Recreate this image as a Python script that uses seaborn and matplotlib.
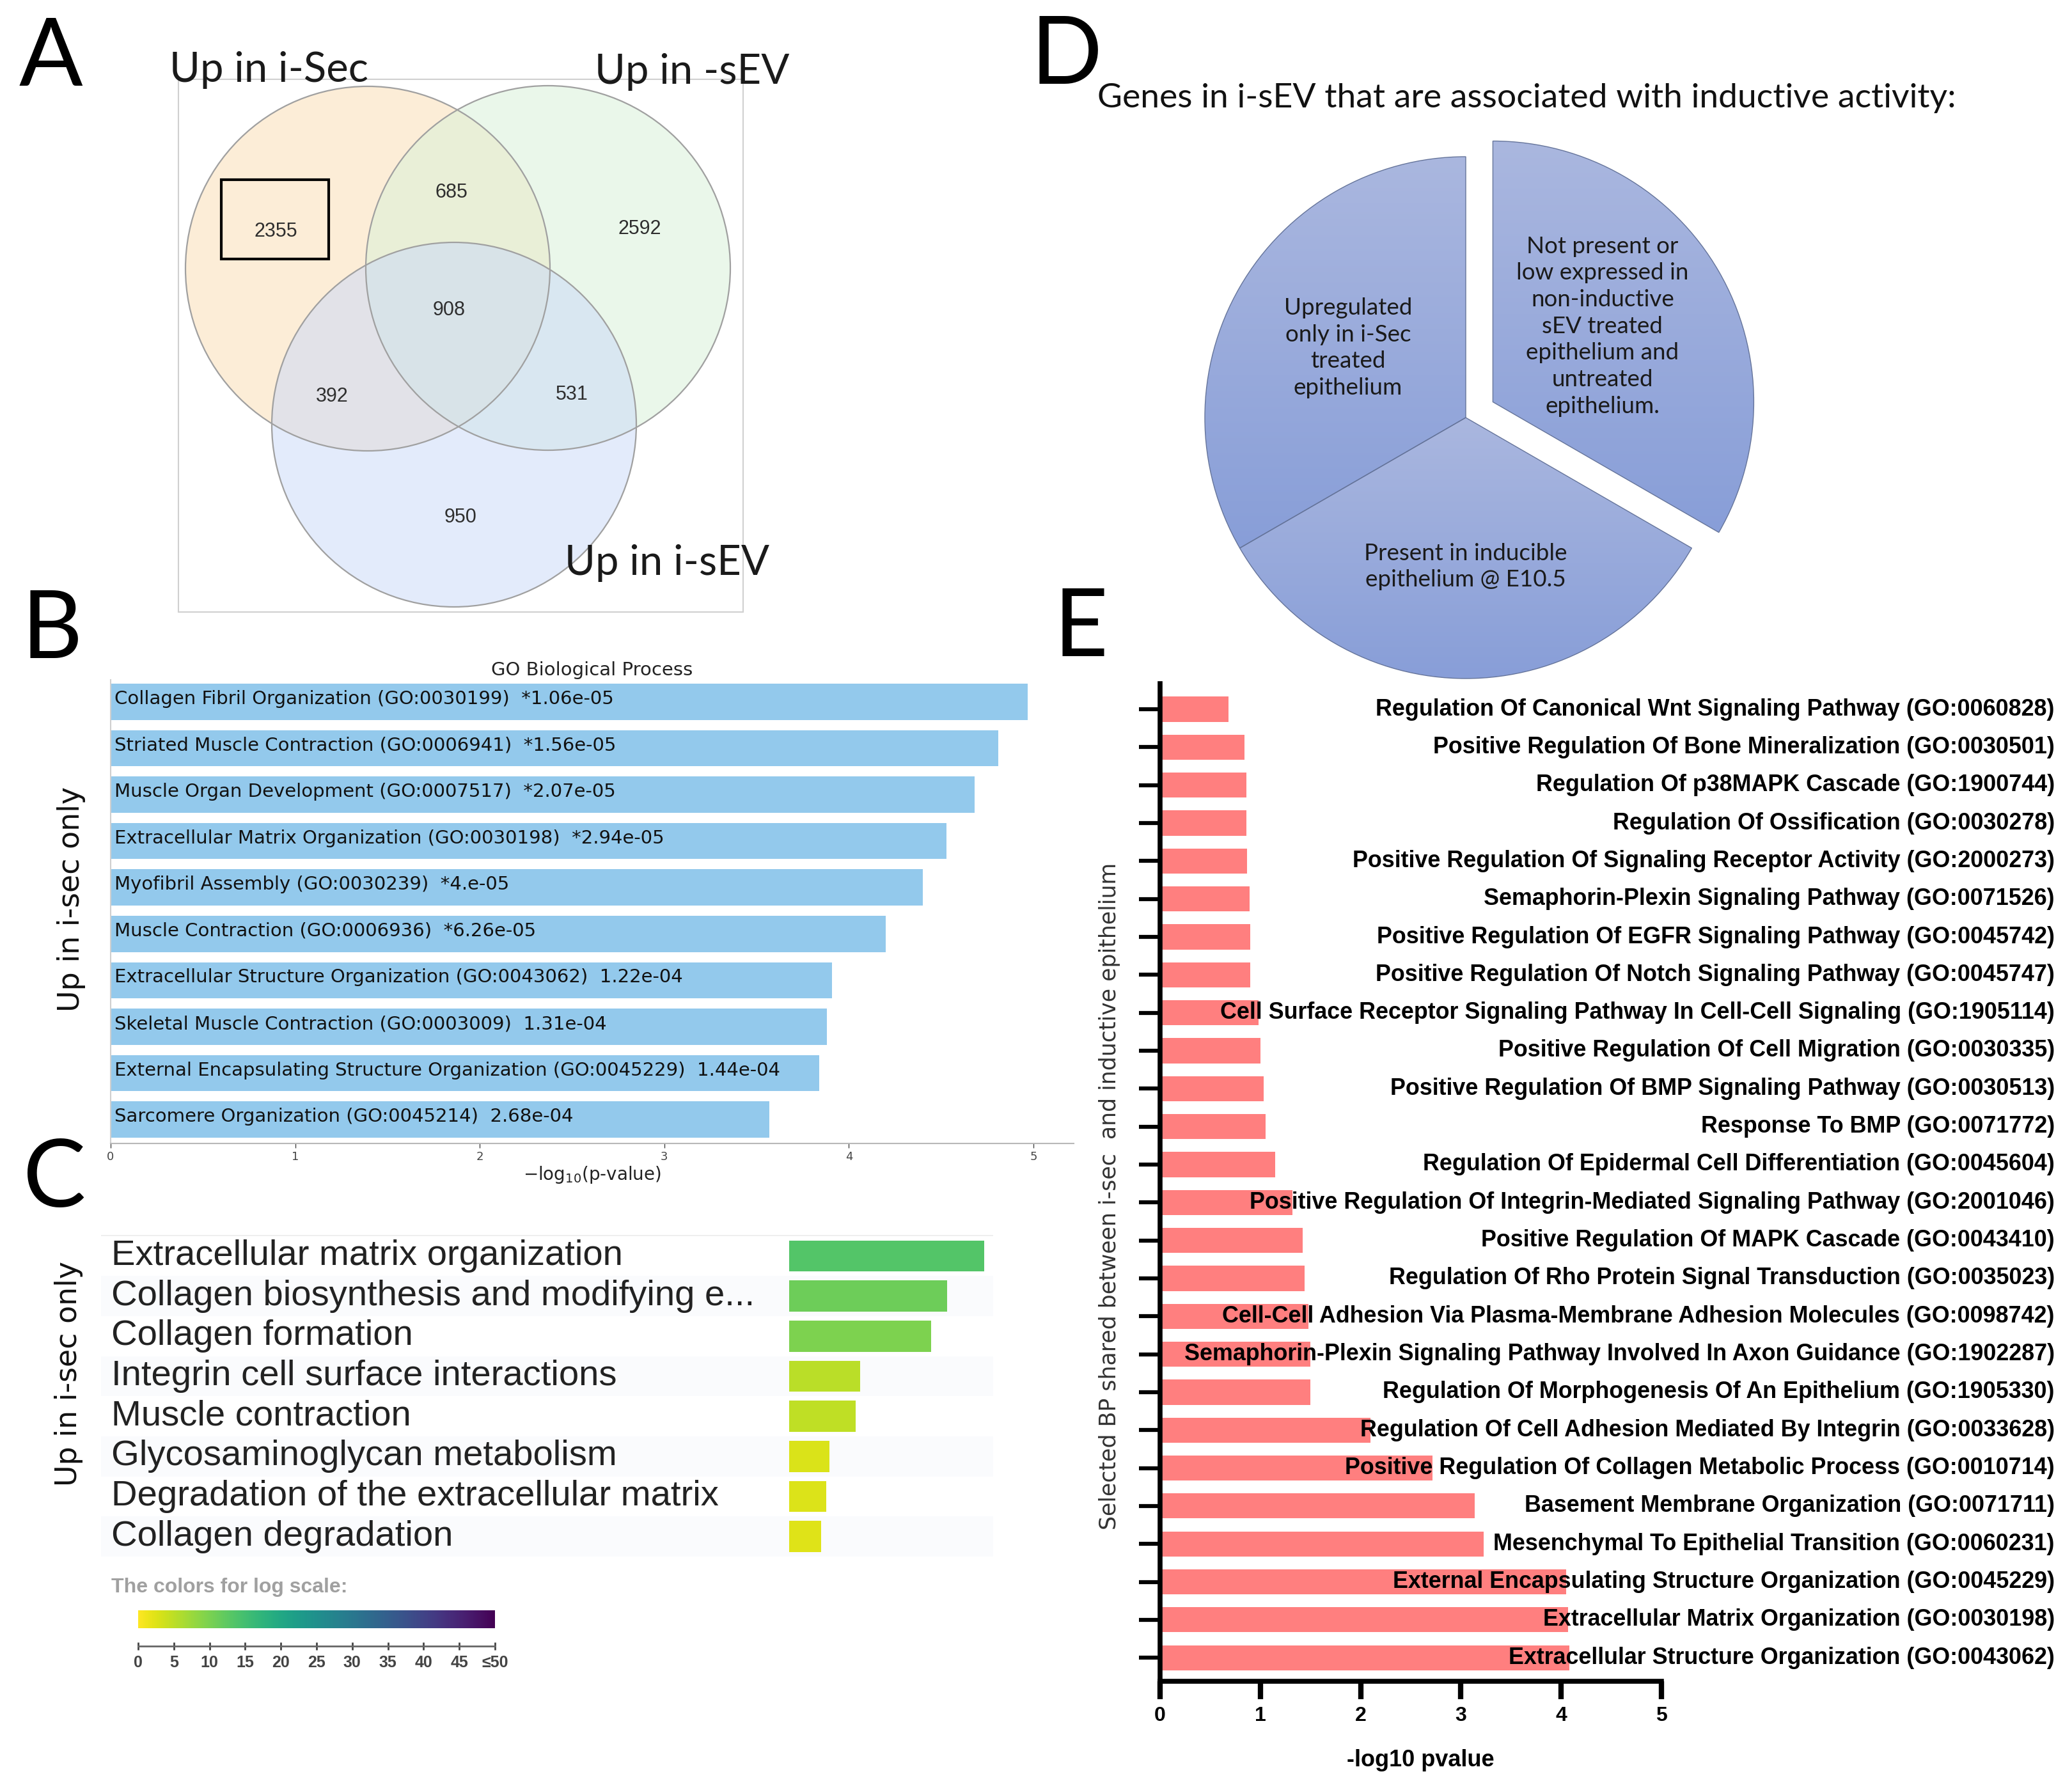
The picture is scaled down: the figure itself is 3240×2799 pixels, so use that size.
import numpy as np
import pandas as pd
import matplotlib
matplotlib.use('Agg')
import matplotlib.pyplot as plt
import seaborn as sns
from matplotlib.patches import Circle, Rectangle
from matplotlib.colors import LinearSegmentedColormap

W, H = 3241, 2799

# ---- data ----
# A: Venn diagram
venn_labels = ['Up in i-Sec', 'Up in -sEV', 'Up in i-sEV']
venn_counts = [2355, 685, 2592, 908, 392, 531, 950]

# B: GO Biological Process (up in i-sec only)
go_terms = ['Collagen Fibril Organization', 'Striated Muscle Contraction', 'Muscle Organ Development',
            'Extracellular Matrix Organization', 'Myofibril Assembly', 'Muscle Contraction',
            'Extracellular Structure Organization', 'Skeletal Muscle Contraction',
            'External Encapsulating Structure Organization', 'Sarcomere Organization']
go_ids = ['GO:0030199', 'GO:0006941', 'GO:0007517', 'GO:0030198', 'GO:0030239',
          'GO:0006936', 'GO:0043062', 'GO:0003009', 'GO:0045229', 'GO:0045214']
go_pvals = ['*1.06e-05', '*1.56e-05', '*2.07e-05', '*2.94e-05', '*4.e-05',
            '*6.26e-05', '1.22e-04', '1.31e-04', '1.44e-04', '2.68e-04']
go_scores = [4.97, 4.81, 4.68, 4.53, 4.40, 4.20, 3.91, 3.88, 3.84, 3.57]

# C: Reactome bars
reactome_terms = ['Extracellular matrix organization', 'Collagen biosynthesis and modifying e...',
                  'Collagen formation', 'Integrin cell surface interactions', 'Muscle contraction',
                  'Glycosaminoglycan metabolism', 'Degradation of the extracellular matrix',
                  'Collagen degradation']
reactome_scores = [5.0, 4.05, 3.64, 1.82, 1.70, 1.03, 0.95, 0.82]
reactome_colors = ['#53C568', '#6DCD59', '#7DD24F', '#BADE28', '#BFDF25', '#DAE319', '#DCE319', '#DFE318']
cbar_ticks = [0, 5, 10, 15, 20, 25, 30, 35, 40, 45, 50]
cbar_ticklabels = ['0', '5', '10', '15', '20', '25', '30', '35', '40', '45', '≤50']

# D: pie
pie_sizes = [1, 1, 1]
pie_texts = ['Upregulated\nonly in i-Sec\ntreated\nepithelium',
             'Present in inducible\nepithelium @ E10.5',
             'Not present or\nlow expressed in\nnon-inductive\nsEV treated\nepithelium and\nuntreated\nepithelium.']

# E: shared BP
bp_terms = ['Regulation Of Canonical Wnt Signaling Pathway (GO:0060828)',
            'Positive Regulation Of Bone Mineralization (GO:0030501)',
            'Regulation Of p38MAPK Cascade (GO:1900744)',
            'Regulation Of Ossification (GO:0030278)',
            'Positive Regulation Of Signaling Receptor Activity (GO:2000273)',
            'Semaphorin-Plexin Signaling Pathway (GO:0071526)',
            'Positive Regulation Of EGFR Signaling Pathway (GO:0045742)',
            'Positive Regulation Of Notch Signaling Pathway (GO:0045747)',
            'Cell Surface Receptor Signaling Pathway In Cell-Cell Signaling (GO:1905114)',
            'Positive Regulation Of Cell Migration (GO:0030335)',
            'Positive Regulation Of BMP Signaling Pathway (GO:0030513)',
            'Response To BMP (GO:0071772)',
            'Regulation Of Epidermal Cell Differentiation (GO:0045604)',
            'Positive Regulation Of Integrin-Mediated Signaling Pathway (GO:2001046)',
            'Positive Regulation Of MAPK Cascade (GO:0043410)',
            'Regulation Of Rho Protein Signal Transduction (GO:0035023)',
            'Cell-Cell Adhesion Via Plasma-Membrane Adhesion Molecules (GO:0098742)',
            'Semaphorin-Plexin Signaling Pathway Involved In Axon Guidance (GO:1902287)',
            'Regulation Of Morphogenesis Of An Epithelium (GO:1905330)',
            'Regulation Of Cell Adhesion Mediated By Integrin (GO:0033628)',
            'Positive Regulation Of Collagen Metabolic Process (GO:0010714)',
            'Basement Membrane Organization (GO:0071711)',
            'Mesenchymal To Epithelial Transition (GO:0060231)',
            'External Encapsulating Structure Organization (GO:0045229)',
            'Extracellular Matrix Organization (GO:0030198)',
            'Extracellular Structure Organization (GO:0043062)']
bp_scores = [0.68, 0.84, 0.86, 0.86, 0.87, 0.89, 0.90, 0.90, 0.98, 1.00, 1.03, 1.05, 1.15,
             1.32, 1.42, 1.44, 1.48, 1.50, 1.50, 2.10, 2.72, 3.14, 3.23, 4.05, 4.07, 4.08]

fig = plt.figure(figsize=(W / 100, H / 100), dpi=100)


def px_axes(x0, y0, x1, y1):
    return fig.add_axes([x0 / W, 1 - y1 / H, (x1 - x0) / W, (y1 - y0) / H])


bg = px_axes(0, 0, W, H)
bg.set_xlim(0, W)
bg.set_ylim(H, 0)
bg.axis('off')

for letter, x, y in [('A', 30, 134), ('B', 34, 1029), ('C', 36, 1887), ('D', 1612, 131), ('E', 1648, 1026)]:
    bg.text(x, y, letter, fontsize=106, family='Lato', va='baseline', ha='left')

# ---- A: Venn ----
bg.add_patch(Rectangle((279, 124), 883, 833, fill=False, edgecolor='#d0d0d0', lw=1.5))
centers = [(575, 420), (857, 419), (710, 664)]
fills = ['#FBDDB0', '#D7F1D7', '#C9D9F9']
for c, f in zip(centers, fills):
    bg.add_patch(Circle(c, 285, facecolor=f, alpha=0.5, edgecolor='none'))
for c in centers:
    bg.add_patch(Circle(c, 285, fill=False, edgecolor='#a0a0a0', lw=1.6))
count_pos = [(431, 362), (706, 301), (1000, 358), (702, 485), (519, 620), (894, 617), (720, 809)]
for n, (x, y) in zip(venn_counts, count_pos):
    bg.text(x, y, str(n), fontsize=22, family='Liberation Sans', color='#2e2e2e', ha='center', va='center')
bg.add_patch(Rectangle((346, 281), 168, 124, fill=False, edgecolor='black', lw=3))
for lab, (x, y) in zip(venn_labels, [(265, 128), (930, 131), (883, 899)]):
    bg.text(x, y, lab, fontsize=47, family='Lato', color='#1a1a1a', ha='left', va='baseline')

# ---- B: GO bar chart ----
axB = px_axes(173, 1063, 1679, 1788)
dfB = pd.DataFrame({'term': go_terms, 'score': go_scores})
sns.barplot(data=dfB, x='score', y='term', orient='h', color='#93C9EC', saturation=1, width=0.78, ax=axB)
axB.set_xlim(0, 5.218)
axB.set_ylim(9.517, -0.475)
for i, (t, g, p) in enumerate(zip(go_terms, go_ids, go_pvals)):
    axB.text(0.022, i - 0.06, f'{t} ({g})  {p}', fontsize=21, va='center', ha='left', color='#111')
axB.set_yticks([])
axB.set_ylabel('')
axB.set_xticks(range(6))
axB.tick_params(axis='x', labelsize=13, colors='#444', length=5, width=1)
axB.set_xlabel('−log$_{10}$(p-value)', fontsize=20, color='#222')
axB.xaxis.set_label_coords(0.5, -0.045)
axB.set_title('GO Biological Process', fontsize=21, pad=5, color='#222')
for s in ['top', 'right']:
    axB.spines[s].set_visible(False)
axB.spines['left'].set_color('#cfcfcf')
axB.spines['bottom'].set_color('#b8b8b8')
axB.spines['left'].set_linewidth(1.5)
axB.spines['bottom'].set_linewidth(1.5)
bg.text(112, 1406, 'Up in i-sec only', fontsize=33, rotation=90, ha='center', va='center', color='#111')

# ---- C: Reactome bars ----
axCbg = px_axes(158, 1931, 1553, 2434)
axCbg.set_xlim(0, 1)
axCbg.set_ylim(7.5, -0.526)
axCbg.axis('off')
for i in range(len(reactome_terms)):
    if i % 2 == 1:
        axCbg.axhspan(i - 0.5, i + 0.5, color='#fafbfd', lw=0)
axCbg.axhline(-0.526, color='#eeeeee', lw=2)
for i, t in enumerate(reactome_terms):
    axCbg.text(0.0115, i, t, fontsize=40.5, family='Liberation Sans', color='#222', va='center', ha='left')

axC = px_axes(1234, 1931, 1553, 2434)
dfC = pd.DataFrame({'term': reactome_terms, 'score': reactome_scores})
sns.barplot(data=dfC, x='score', y='term', hue='term', palette=reactome_colors, legend=False,
            orient='h', saturation=1, width=0.78, ax=axC)
axC.set_xlim(0, 5.23)
axC.set_ylim(7.5, -0.526)
axC.axis('off')
bg.text(108, 2148, 'Up in i-sec only', fontsize=33, rotation=90, ha='center', va='center', color='#111')

bg.text(174, 2490, 'The colors for log scale:', fontsize=23, fontweight='bold', family='Liberation Sans',
        color='#a0a0a0', ha='left', va='baseline')
axCb = px_axes(216, 2518, 774, 2546)
axCb.imshow(np.linspace(0, 50, 256)[None, :], cmap='viridis_r', aspect='auto', extent=[0, 50, 0, 1])
axCb.axis('off')
axT = px_axes(216, 2566, 774, 2574)
axT.set_xlim(0, 50)
axT.set_yticks([])
for s in ['top', 'right', 'left']:
    axT.spines[s].set_visible(False)
axT.spines['bottom'].set_color('#666')
axT.spines['bottom'].set_linewidth(2)
axT.set_xticks(cbar_ticks)
axT.set_xticklabels(cbar_ticklabels, fontsize=18, fontweight='bold', family='Liberation Sans')
axT.tick_params(axis='x', direction='inout', length=8, width=2, colors='#444', pad=6)
axT.patch.set_alpha(0)

# ---- D: pie ----
bg.text(1716, 153, 'Genes in i-sEV that are associated with inductive activity:', fontsize=38.5,
        family='Lato', va='center', ha='left', color='#111')
axD = px_axes(1792, 153, 2792, 1153)
wedges, _ = axD.pie(pie_sizes, startangle=90, counterclock=True, explode=[0, 0, 0.12], radius=1,
                    wedgeprops=dict(edgecolor='#65749a', linewidth=1.0))
pie_cmap = LinearSegmentedColormap.from_list('pie', ['#889ED8', '#AAB7DF'])
for w in wedges:
    ext = w.get_path().get_extents()
    im = axD.imshow(np.linspace(0, 1, 256).reshape(-1, 1), origin='lower', cmap=pie_cmap, aspect='auto',
                    extent=[ext.x0, ext.x1, ext.y0, ext.y1], zorder=1)
    im.set_clip_path(w)
    w.set_facecolor('none')
    w.set_zorder(3)
lim = 500 / 408
axD.set_xlim(-lim, lim)
axD.set_ylim(-lim, lim)
axD.axis('off')
for t, (x, y) in zip(pie_texts, [(-0.451, 0.267), (0.0, -0.571), (0.524, 0.350)]):
    axD.text(x, y, t, fontsize=26.5, family='Lato', ha='center', va='center', color='#1a1a1a',
             linespacing=1.32, zorder=5)

# ---- E: shared BP bars ----
axE = px_axes(1814, 1069, 2598, 2629)
dfE = pd.DataFrame({'term': bp_terms, 'score': bp_scores})
sns.barplot(data=dfE, x='score', y='term', orient='h', color='#FF7F7F', saturation=1, width=0.66, ax=axE)
axE.set_xlim(0, 5)
axE.set_ylim(25.62, -0.675)
for s in ['top', 'right']:
    axE.spines[s].set_visible(False)
for s in ['left', 'bottom']:
    axE.spines[s].set_linewidth(5.5)
    axE.spines[s].set_color('black')
axE.set_yticks(range(len(bp_terms)))
axE.set_yticklabels([])
axE.tick_params(axis='y', length=24, width=4.5, direction='out', color='black')
axE.set_xticks(range(6))
axE.tick_params(axis='x', length=20, width=6, labelsize=23, pad=8, color='black')
for lab in axE.get_xticklabels():
    lab.set_fontweight('bold')
    lab.set_family('Liberation Sans')
for i, t in enumerate(bp_terms):
    axE.text(8.92, i, t, ha='right', va='center', fontsize=25.8, fontweight='bold',
             family='Liberation Sans', clip_on=False, zorder=5)
axE.set_ylabel('Selected BP shared between i-sec  and inductive epithelium', fontsize=25, color='#333')
axE.yaxis.set_label_coords(-0.079, 0.486)
axE.set_xlabel('-log10 pvalue', fontsize=26, fontweight='bold', family='Liberation Sans')
axE.xaxis.set_label_coords(0.52, -0.068)

fig.savefig('out.png', dpi=100)
